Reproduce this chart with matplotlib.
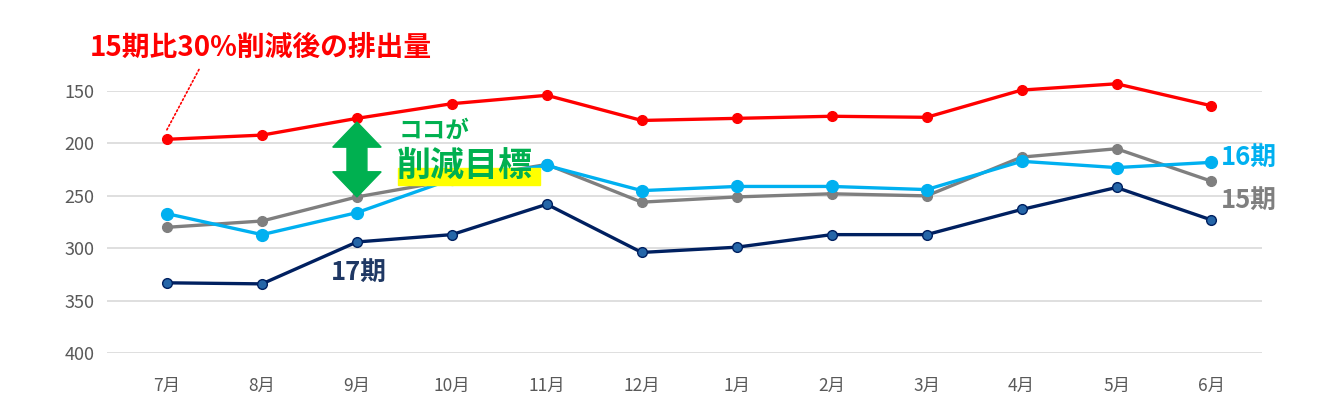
import matplotlib.pyplot as plt
from matplotlib.patches import Polygon, Rectangle

plt.rcParams['font.family'] = ['Noto Sans CJK JP', 'DejaVu Sans']

# ==========================================
# DATA
# ==========================================

months = ["7月", "8月", "9月", "10月", "11月", "12月",
          "1月", "2月", "3月", "4月", "5月", "6月"]

target = [196, 192, 176, 162, 154, 178, 176, 174, 175, 149, 143, 164]
ki15 = [280, 274, 251, 235, 220, 256, 251, 248, 250, 213, 205, 236]
ki16 = [267, 287, 266, 234, 221, 245, 241, 241, 244, 217, 223, 218]
ki17 = [333, 334, 294, 287, 258, 304, 299, 287, 287, 263, 242, 273]

yticks = [150, 200, 250, 300, 350, 400]

# ==========================================
# FIGURE
# ==========================================

fig = plt.figure(figsize=(13.24, 4.18), dpi=100)
ax = fig.add_axes([0.081, 0.1555, 0.872, 0.6265])

x = list(range(len(months)))

ax.plot(x, ki15, color="#7F7F7F", lw=2.4, marker="o", ms=7,
        mfc="#7F7F7F", mec="#7F7F7F", zorder=3, clip_on=False)
ax.plot(x, ki16, color="#00B0F0", lw=2.4, marker="o", ms=8.5,
        mfc="#00B0F0", mec="#00B0F0", zorder=4, clip_on=False)
ax.plot(x, ki17, color="#002060", lw=2.4, marker="o", ms=7,
        mfc="#2566A8", mec="#002060", mew=1, zorder=3, clip_on=False)
ax.plot(x, target, color="#FF0000", lw=2.4, marker="o", ms=7,
        mfc="#FF0000", mec="#FF0000", zorder=5, clip_on=False)

ax.set_ylim(400, 150)
ax.set_xlim(-0.63, 11.53)
ax.set_yticks(yticks)
ax.set_xticks(x)
ax.set_xticklabels(months)

ax.grid(axis="y", color="#D9D9D9", lw=1.2)
ax.set_axisbelow(True)
for s in ax.spines.values():
    s.set_visible(False)
ax.tick_params(length=0, colors="#595959")
ax.tick_params(axis="x", pad=17, labelsize=12.5)
ax.tick_params(axis="y", pad=9, labelsize=13)

# ==========================================
# ANNOTATIONS
# ==========================================

# yellow highlight behind the label
ax.add_patch(Rectangle((2.43, 223.5), 1.5, 16.5, color="#FFFF00",
                       zorder=6, clip_on=False))

ax.text(2.44, 188, "ココが", color="#00B050", fontsize=17,
        fontweight="bold", va="center", ha="left", zorder=7)
ax.text(2.42, 221, "削減目標", color="#00B050", fontsize=24.5,
        fontweight="bold", va="center", ha="left", zorder=7)

# double headed green arrow at 9月
cx, top, bot = 2.0, 179.5, 251
hw, sw, hl = 0.255, 0.105, 24
arrow = [
    (cx, top), (cx + hw, top + hl), (cx + sw, top + hl),
    (cx + sw, bot - hl), (cx + hw, bot - hl), (cx, bot),
    (cx - hw, bot - hl), (cx - sw, bot - hl), (cx - sw, top + hl),
    (cx - hw, top + hl),
]
ax.add_patch(Polygon(arrow, closed=True, color="#00B050", zorder=6))

ax.text(1.73, 323, "17期", color="#1F3864", fontsize=18.5,
        fontweight="bold", va="center", ha="left", zorder=7)
ax.text(11.1, 213, "16期", color="#00B0F0", fontsize=18.5,
        fontweight="bold", va="center", ha="left", zorder=7,
        clip_on=False)
ax.text(11.1, 254, "15期", color="#7F7F7F", fontsize=18.5,
        fontweight="bold", va="center", ha="left", zorder=7,
        clip_on=False)

fig.text(0.068, 0.885, "15期比30%削減後の排出量", color="#FF0000",
         fontsize=20, fontweight="bold", va="center", ha="left")

# dotted leader to the first target point
ax.annotate("", xy=(-0.02, 190), xytext=(0.35, 127),
            arrowprops=dict(arrowstyle="-", color="#FF0000", lw=1.2,
                            linestyle=(0, (1, 1.5))),
            annotation_clip=False)

fig.savefig("out.png", dpi=100)
